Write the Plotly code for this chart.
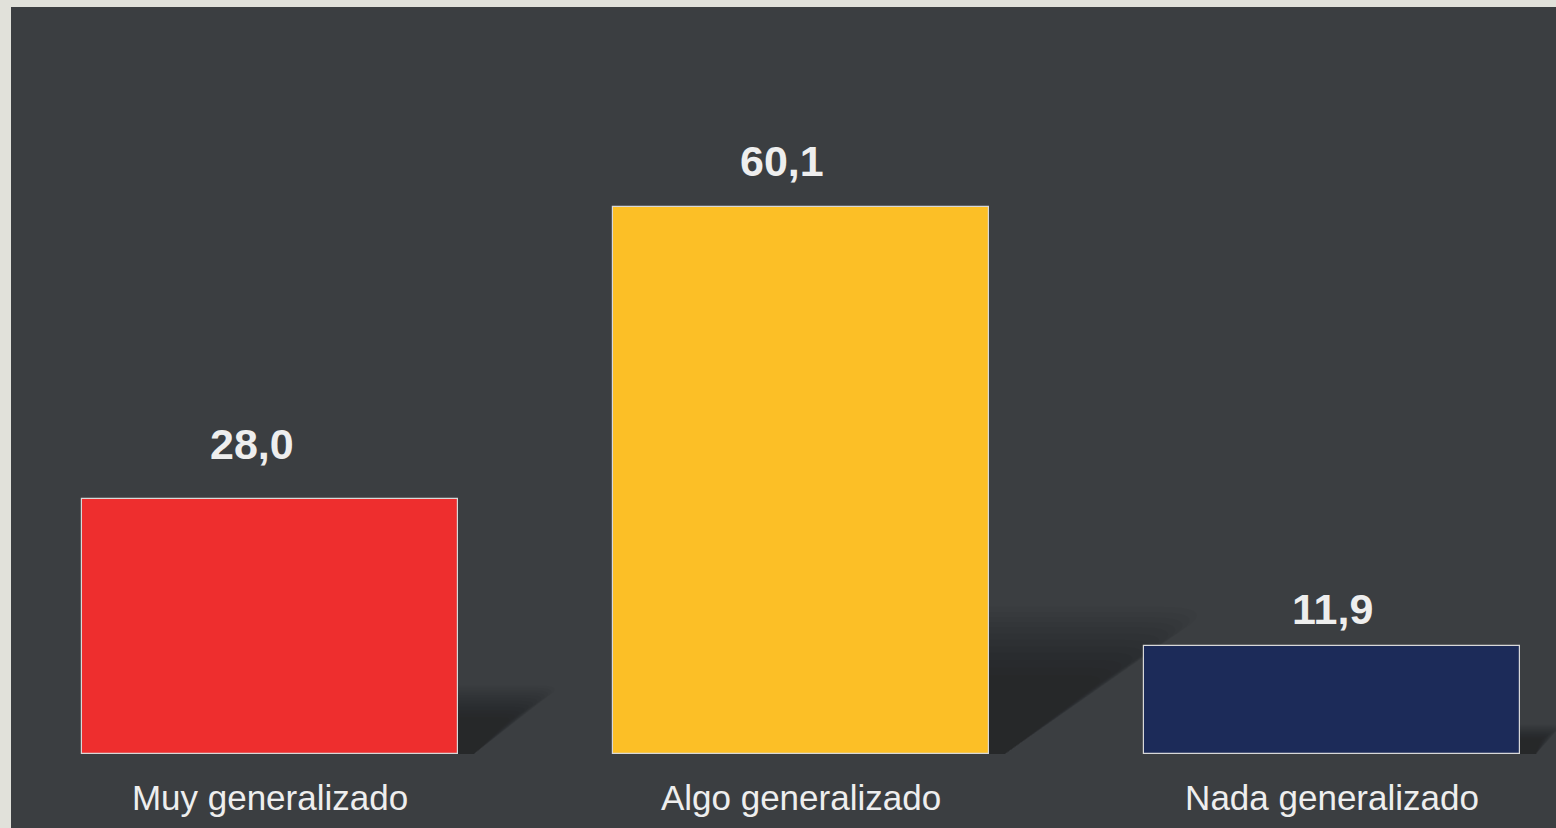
import plotly.graph_objects as go

categories = ["Muy generalizado", "Algo generalizado", "Nada generalizado"]
values = [28.0, 60.1, 11.9]
bar_colors = ["#EE2E2E", "#FCBF26", "#1C2B59"]
label_offsets = [55, 46, 37]   # pixel offset of value labels above bar tops
label_xshifts = [-18, -19, 0]  # horizontal pixel offset of value labels

BG = "#3B3E41"
BORDER = "#E1E1DA"
TEXT = "#EEEEEE"
BAR_WIDTH = 0.708

x = list(range(len(categories)))
labels = [f"{v:.1f}".replace(".", ",") for v in values]

fig = go.Figure()

# soft "cast" shadows behind bars (derived from bar values)
shapes = []
scales = [0.62, 0.68, 0.74, 0.8, 0.85, 0.9, 0.95, 1.0, 1.04, 1.08, 1.12, 1.16]
for xi, v in zip(x, values):
    xr = xi + BAR_WIDTH / 2
    h_full = 0.232 * v
    w_full = 0.0062 * v
    for s in scales:
        h = h_full * s
        w = w_full * s
        path = (f"M {xr},0 L {xr},{h} L {xr + w * 0.75},{h} "
                f"Q {xr + w * 1.0},{h} {xr + w * 0.85},{h * 0.85} L {xr + 0.03},0 Z")
        shapes.append(dict(type="path", xref="x", yref="y", path=path,
                           fillcolor="black", opacity=0.024, line=dict(width=0),
                           layer="below"))

# light border strips (left and top)
shapes.append(dict(type="rect", xref="paper", yref="paper", xsizemode="pixel", xanchor=0,
                   x0=-11, x1=0, y0=-1, y1=2, fillcolor=BORDER, line=dict(width=0), layer="above"))
shapes.append(dict(type="rect", xref="paper", yref="paper", ysizemode="pixel", yanchor=1,
                   y0=0, y1=7, x0=-1, x1=2, fillcolor=BORDER, line=dict(width=0), layer="above"))

fig.add_trace(go.Bar(
    x=x, y=values, width=BAR_WIDTH,
    marker=dict(color=bar_colors, line=dict(color="#D8D8D8", width=1.2)),
    hoverinfo="skip", showlegend=False,
))

annotations = []
for xi, v, lab, off, xs in zip(x, values, labels, label_offsets, label_xshifts):
    annotations.append(dict(x=xi, y=v, xref="x", yref="y", text=lab, showarrow=False,
                            yanchor="middle", yshift=off, xshift=xs,
                            font=dict(family="Liberation Sans", size=43, color=TEXT, weight="bold")))

fig.update_layout(
    width=1556, height=828,
    margin=dict(l=11, r=0, t=7, b=74),
    paper_bgcolor=BG, plot_bgcolor=BG,
    shapes=shapes, annotations=annotations,
    bargap=0,
    xaxis=dict(range=[-0.4878, 2.4218], tickvals=x, ticktext=categories,
               showgrid=False, zeroline=False, showline=False, ticks="",
               ticklabelstandoff=20,
               tickfont=dict(family="Liberation Sans", size=35, color=TEXT)),
    yaxis=dict(range=[0, 82.09], visible=False, showgrid=False, zeroline=False),
    font=dict(family="Liberation Sans"),
)

fig.write_html(
    "out.html",
    config={"displayModeBar": False},
    post_script="document.body.style.margin='0';document.body.style.overflow='hidden';",
)
